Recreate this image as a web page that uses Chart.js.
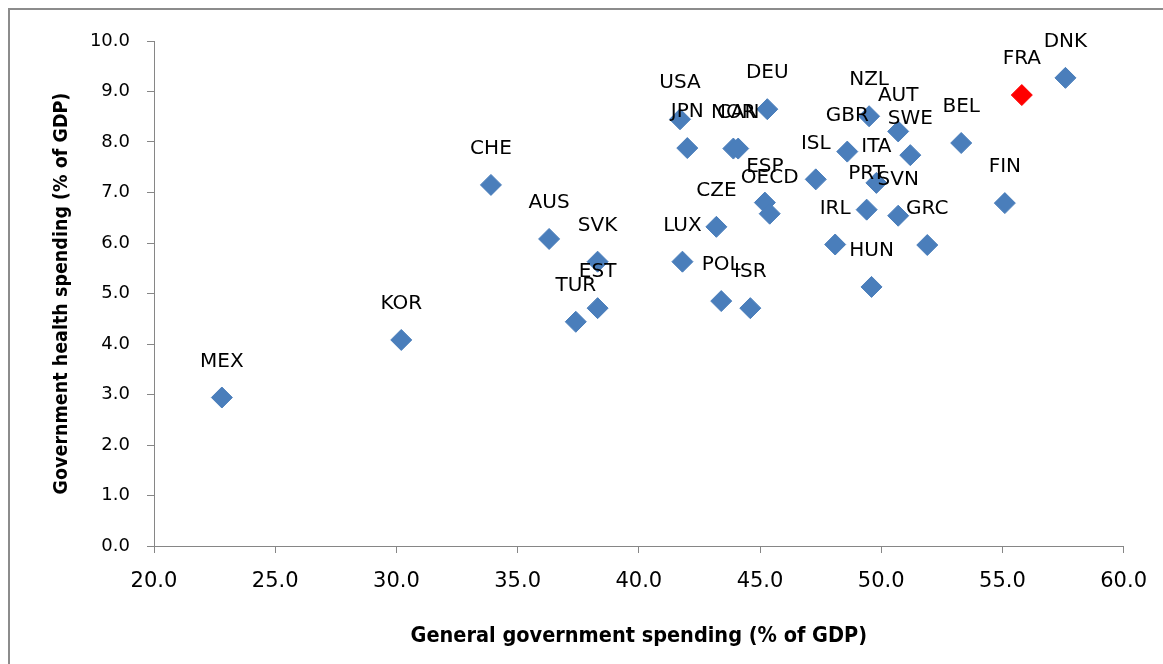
<!DOCTYPE html>
<html>
<head>
<meta charset="utf-8">
<script src="https://cdn.jsdelivr.net/npm/chart.js@4/dist/chart.umd.min.js"></script>
<style>
  html, body { margin: 0; padding: 0; background: #fff; }
  #wrap { position: relative; width: 1163px; height: 664px; }
</style>
</head>
<body>
<div id="wrap"><canvas id="chart" width="1163" height="664"></canvas></div>
<script>
// Country codes, general government spending and government health spending (% of GDP)
var countries = ['MEX', 'KOR', 'CHE', 'AUS', 'SVK', 'TUR', 'EST', 'USA', 'JPN', 'NOR', 'CAN',
    'DEU', 'NZL', 'AUT', 'GBR', 'SWE', 'ISL', 'ITA', 'ESP', 'OECD', 'PRT', 'SVN', 'CZE',
    'IRL', 'GRC', 'LUX', 'HUN', 'POL', 'ISR', 'BEL', 'FRA', 'DNK', 'FIN'];
var govSpending = [22.8, 30.2, 33.9, 36.3, 38.3, 37.4, 38.3, 41.7, 42.0, 43.9, 44.1,
    45.3, 49.5, 50.7, 48.6, 51.2, 47.3, 49.8, 45.2, 45.4, 49.4, 50.7, 43.2,
    48.1, 51.9, 41.8, 49.6, 43.4, 44.6, 53.3, 55.8, 57.6, 55.1];
var healthSpending = [2.94, 4.08, 7.15, 6.08, 5.63, 4.44, 4.71, 8.45, 7.88, 7.87, 7.87,
    8.65, 8.51, 8.21, 7.81, 7.74, 7.26, 7.19, 6.80, 6.58, 6.66, 6.54, 6.32,
    5.97, 5.96, 5.63, 5.13, 4.85, 4.71, 7.98, 8.93, 9.27, 6.79];
var highlight = 'FRA';
var xTicks = [20, 25, 30, 35, 40, 45, 50, 55, 60];
var yTicks = [0, 1, 2, 3, 4, 5, 6, 7, 8, 9, 10];

var BLUE = '#4A7EBB';
var RED = '#FF0000';
var AXIS_GREY = '#868686';

var points = countries.map(function(c, i) {
    return { x: govSpending[i], y: healthSpending[i], label: c };
});
var pointColors = countries.map(function(c) {
    return c === highlight ? RED : BLUE;
});

// Outer frame like the spreadsheet chart border
var framePlugin = {
    id: 'frame',
    beforeDraw: function(chart) {
        var ctx = chart.ctx;
        ctx.save();
        ctx.fillStyle = '#fff';
        ctx.fillRect(0, 0, chart.width, chart.height);
        ctx.strokeStyle = '#8c8c8c';
        ctx.lineWidth = 2;
        ctx.strokeRect(9, 9, chart.width + 20, chart.height + 20);
        ctx.restore();
    }
};

// Country labels above each marker
var labelPlugin = {
    id: 'pointLabels',
    afterDatasetsDraw: function(chart) {
        var ctx = chart.ctx;
        var meta = chart.getDatasetMeta(0);
        ctx.save();
        ctx.font = '20px "DejaVu Sans"';
        ctx.fillStyle = '#000';
        ctx.textAlign = 'center';
        ctx.textBaseline = 'middle';
        meta.data.forEach(function(el, i) {
            ctx.fillText(points[i].label, el.x, el.y - 36);
        });
        ctx.restore();
    }
};

var ctx = document.getElementById('chart').getContext('2d');
new Chart(ctx, {
    type: 'scatter',
    data: {
        datasets: [{
            data: points,
            pointStyle: 'rectRot',
            pointRadius: 10.5,
            pointHoverRadius: 10.5,
            pointBackgroundColor: pointColors,
            pointBorderColor: pointColors,
            pointBorderWidth: 1
        }]
    },
    options: {
        responsive: false,
        animation: false,
        events: [],
        layout: { padding: { top: 41, right: 39, left: 0, bottom: 0 } },
        plugins: {
            legend: { display: false },
            tooltip: { enabled: false }
        },
        scales: {
            x: {
                type: 'linear',
                min: 20,
                max: 60,
                afterFit: function(scale) { scale.height = 118; },
                afterBuildTicks: function(scale) {
                    scale.ticks = xTicks.map(function(v) { return { value: v }; });
                },
                grid: {
                    drawOnChartArea: false,
                    drawTicks: true,
                    tickLength: 7,
                    color: AXIS_GREY
                },
                border: { color: AXIS_GREY, width: 1 },
                ticks: {
                    color: '#000',
                    padding: 16,
                    maxRotation: 0,
                    font: { family: 'DejaVu Sans', size: 21 },
                    callback: function(v) { return v.toFixed(1); }
                },
                title: {
                    display: true,
                    text: 'General government spending (% of GDP)',
                    color: '#000',
                    font: { family: 'DejaVu Sans Condensed', size: 21.5, weight: 'bold' },
                    padding: { top: 0, bottom: 15 }
                }
            },
            y: {
                type: 'linear',
                min: 0,
                max: 10,
                afterFit: function(scale) { scale.width = 154; },
                afterBuildTicks: function(scale) {
                    scale.ticks = yTicks.map(function(v) { return { value: v }; });
                },
                grid: {
                    drawOnChartArea: false,
                    drawTicks: true,
                    tickLength: 7,
                    color: AXIS_GREY
                },
                border: { color: AXIS_GREY, width: 1 },
                ticks: {
                    color: '#000',
                    padding: 17,
                    font: { family: 'DejaVu Sans', size: 18 },
                    callback: function(v) { return v.toFixed(1); }
                },
                title: {
                    display: true,
                    text: 'Government health spending (% of GDP)',
                    color: '#000',
                    font: { family: 'DejaVu Sans Condensed', size: 19.5, weight: 'bold' },
                    padding: { top: 50, bottom: 0 }
                }
            }
        }
    },
    plugins: [framePlugin, labelPlugin]
});
</script>
</body>
</html>
